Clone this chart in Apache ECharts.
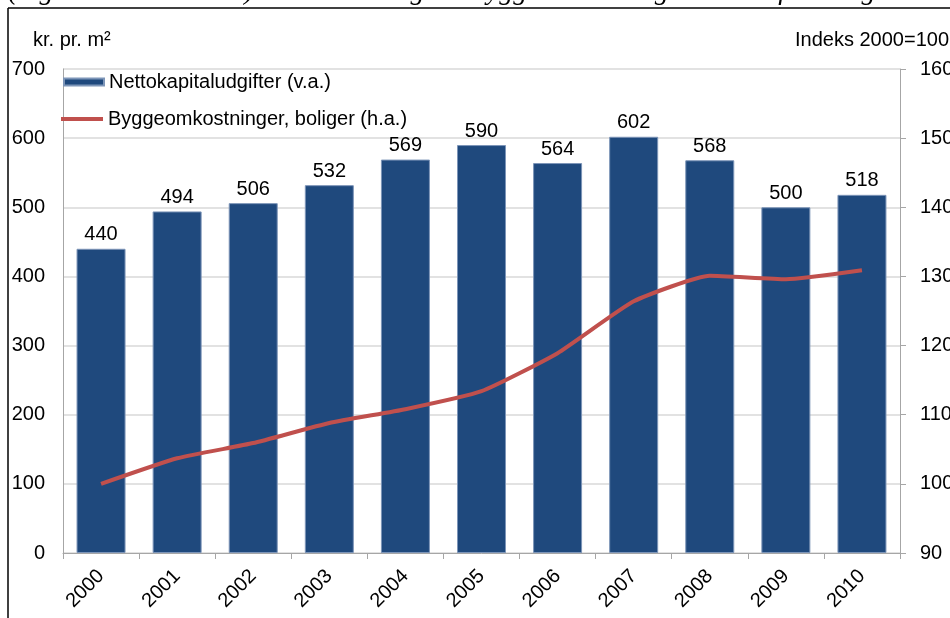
<!DOCTYPE html>
<html>
<head>
<meta charset="utf-8">
<script src="https://cdn.jsdelivr.net/npm/echarts@6/dist/echarts.min.js"></script>
<style>
  html, body { margin: 0; padding: 0; background: #fff; }
  #chart { width: 950px; height: 618px; }
</style>
</head>
<body>
<div id="chart"></div>
<script>
const years = ["2000", "2001", "2002", "2003", "2004", "2005", "2006", "2007", "2008", "2009", "2010"];
const kapitaludgifter = [440, 494, 506, 532, 569, 590, 564, 602, 568, 500, 518];
const byggeomk = [100, 103.7, 105.9, 108.8, 110.8, 113.4, 118.9, 126.4, 130.1, 129.6, 130.9];

const barName = "Nettokapitaludgifter (v.a.)";
const lineName = "Byggeomkostninger, boliger (h.a.)";
const font = "Liberation Sans, Arial, sans-serif";

const chart = echarts.init(document.getElementById("chart"));

chart.setOption({
  animation: false,
  textStyle: { fontFamily: font, color: "#000" },
  grid: { left: 63, right: 50, top: 69, bottom: 65, outerBoundsMode: "none" },
  graphic: [
    {
      type: "text",
      left: 8,
      top: -22,
      style: {
        text: "(regnskabsår e. 2012) samt udviklingen i byggeomkostningsindekset for boliger",
        font: "italic 28px 'Liberation Serif', 'Times New Roman', serif",
        fill: "#000"
      }
    },
    // ramme om figuren
    { type: "line", shape: { x1: 8, y1: 8, x2: 950, y2: 8 }, style: { stroke: "#000", lineWidth: 1.5 } },
    { type: "line", shape: { x1: 8, y1: 8, x2: 8, y2: 618 }, style: { stroke: "#000", lineWidth: 1.5 } },
    {
      type: "text", left: 33, top: 30,
      style: { text: "kr. pr. m²", font: "20px " + font, fill: "#000" }
    },
    {
      type: "text", right: 1, top: 30,
      style: { text: "Indeks 2000=100", font: "20px " + font, fill: "#000" }
    }
  ],
  legend: [
    {
      data: [barName],
      left: 63,
      top: 72,
      padding: 0,
      icon: "rect",
      itemWidth: 40,
      itemHeight: 7,
      textStyle: { fontSize: 20, fontFamily: font, color: "#000" }
    },
    {
      data: [lineName],
      left: 61,
      top: 109,
      padding: 0,
      icon: "rect",
      itemWidth: 42,
      itemHeight: 4,
      textStyle: { fontSize: 20, fontFamily: font, color: "#000" }
    }
  ],
  xAxis: {
    type: "category",
    data: years,
    boundaryGap: true,
    axisLine: { lineStyle: { color: "#a6a6a6", width: 1 } },
    axisTick: { show: true, length: 6, lineStyle: { color: "#a6a6a6" } },
    axisLabel: { rotate: 45, fontSize: 20, color: "#000", margin: 20, fontFamily: font }
  },
  yAxis: [
    {
      type: "value",
      min: 0,
      max: 700,
      interval: 100,
      axisLine: { show: true, lineStyle: { color: "#a6a6a6" } },
      axisTick: { show: false },
      axisLabel: { fontSize: 20, color: "#000", margin: 18, fontFamily: font },
      splitLine: { lineStyle: { color: "#d9d9d9", width: 1.5 } }
    },
    {
      type: "value",
      min: 90,
      max: 160,
      interval: 10,
      position: "right",
      axisLine: { show: true, lineStyle: { color: "#a6a6a6" } },
      axisTick: { show: true, length: 6, lineStyle: { color: "#a6a6a6" } },
      axisLabel: { fontSize: 20, color: "#000", margin: 20, fontFamily: font },
      splitLine: { show: false }
    }
  ],
  series: [
    {
      name: barName,
      type: "bar",
      data: kapitaludgifter,
      barWidth: 49,
      itemStyle: { color: "#1f497d", borderColor: "#7d95b8", borderWidth: 1 },
      label: {
        show: true,
        position: "top",
        distance: 4,
        fontSize: 20,
        color: "#000",
        fontFamily: font
      }
    },
    {
      name: lineName,
      type: "line",
      yAxisIndex: 1,
      data: byggeomk,
      showSymbol: false,
      symbol: "none",
      smooth: 0.15,
      itemStyle: { color: "#c0504d" },
      lineStyle: { color: "#c0504d", width: 4 }
    }
  ]
});
</script>
</body>
</html>
